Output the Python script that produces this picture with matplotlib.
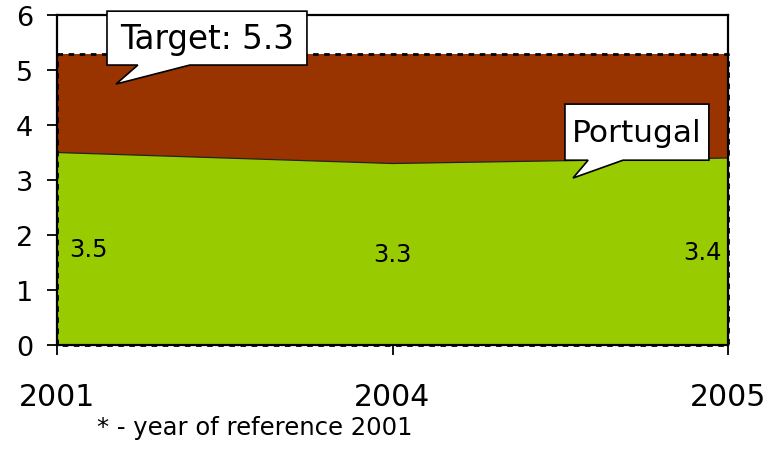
import matplotlib
matplotlib.use("Agg")
import matplotlib.pyplot as plt
from matplotlib.patches import Polygon
import numpy as np

years = ["2001", "2004", "2005"]
portugal = [3.5, 3.3, 3.4]
target = 5.3
yticks = [0, 1, 2, 3, 4, 5, 6]

GREEN = "#99CC00"
BROWN = "#993300"

plt.rcParams['font.family'] = ['DejaVu Sans']

fig = plt.figure(figsize=(7.71, 4.52), dpi=100)
ax = fig.add_axes([57/771, 1 - 346/452, (728-57)/771, (346-16)/452])

x = np.arange(len(years))
tgt = [target] * len(years)

ax.fill_between(x, 0, tgt, facecolor=BROWN, edgecolor="none", zorder=1)
ax.fill_between(x, 0, portugal, facecolor=GREEN, edgecolor="none", zorder=2)
ax.plot(x, portugal, color="#222222", lw=0.9, zorder=3)
# dashed outline of target area
ax.plot([x[0], x[-1], x[-1], x[0], x[0]], [target, target, 0, 0, target],
        color="black", lw=2.0, ls=(0, (2, 2)), zorder=4, clip_on=False)

ax.set_xlim(x[0], x[-1])
ax.set_ylim(0, 6)
ax.set_yticks(yticks)
ax.set_yticklabels([str(t) for t in yticks])
ax.set_xticks(x)
ax.set_xticklabels(years)
ax.tick_params(axis="y", direction="out", length=7, width=1.3, pad=10, labelsize=19.5)
ax.tick_params(axis="x", direction="out", length=7, width=1.3, pad=20, labelsize=21.5)
for s in ax.spines.values():
    s.set_linewidth(1.6)
    s.set_color("black")
    s.set_zorder(5)

# data labels at half height
has = ["left", "center", "right"]
offs = [0.035, 0.0, -0.02]
for i, v in enumerate(portugal):
    ax.text(x[i] + offs[i], v / 2, f"{v:.1f}", ha=has[i], va="center",
            fontsize=17.5, color="black", zorder=6)

def callout(ax, box, base, tip, text, fs):
    x0, x1, y0, y1 = box
    bx0, bx1 = base
    pts = [(x0, y1), (x1, y1), (x1, y0), (bx1, y0), tip, (bx0, y0), (x0, y0)]
    poly = Polygon(pts, closed=True, facecolor="white", edgecolor="black",
                   lw=1.2, zorder=7, clip_on=False)
    ax.add_patch(poly)
    ax.text((x0 + x1) / 2, (y0 + y1) / 2, text, ha="center", va="center",
            fontsize=fs, zorder=8)

callout(ax, (0.149, 0.745, 5.09, 6.07), (0.241, 0.396), (0.176, 4.745),
        "Target:\u00a05.3", 23.5)
callout(ax, (1.514, 1.943, 3.36, 4.38), (1.583, 1.687), (1.538, 3.036),
        "Portugal", 22.5)

fig.text(255/771, 1 - 428/452, "* - year of reference 2001", ha="center",
         va="center", fontsize=17.5)

fig.savefig("out.png", dpi=100)
